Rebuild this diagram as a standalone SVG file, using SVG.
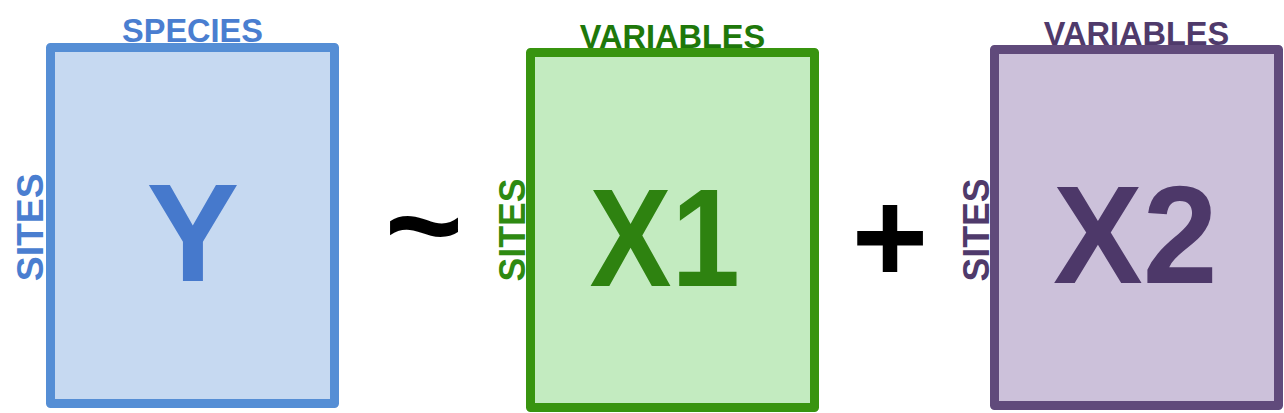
<svg xmlns="http://www.w3.org/2000/svg" width="1284" height="413" viewBox="0 0 1284 413">
<style>
.box{stroke-width:9;stroke-linejoin:round}
.t{font-family:"Liberation Sans",Arial,sans-serif;font-weight:bold}
.big{font-size:139px}
.lbl{font-size:32.5px;text-anchor:middle}
.side{font-size:37px;text-anchor:middle}
</style>
<rect width="1284" height="413" fill="#ffffff"/>
<g id="node-Y">
<rect class="box" x="50.5" y="47.5" width="284" height="356" fill="#c6d9f1" stroke="#558ed5"/>
<text class="t lbl" x="192.5" y="42" fill="#4a7ed0">SPECIES</text>
<text class="t side" transform="translate(43.3,227.3) rotate(-90)" x="0" y="0" textLength="108" lengthAdjust="spacingAndGlyphs" fill="#4a7ed0">SITES</text>
<text class="t big" x="192.8" y="280.7" text-anchor="middle" fill="#4679cc">Y</text>
</g>
<g id="op-tilde">
<text class="t" x="424" y="271" font-size="134" text-anchor="middle" fill="#000000">~</text>
</g>
<g id="node-X1">
<rect class="box" x="530.5" y="52.5" width="284" height="355" fill="#c3ebc0" stroke="#38940f"/>
<text class="t lbl" x="672.4" y="47.5" fill="#1e780a">VARIABLES</text>
<text class="t side" transform="translate(525,230) rotate(-90)" x="0" y="0" font-size="38.5" textLength="103" lengthAdjust="spacingAndGlyphs" fill="#2e8a12">SITES</text>
<text class="t big" x="589.5" y="286" textLength="150.5" lengthAdjust="spacingAndGlyphs" fill="#2e8210">X1</text>
</g>
<g id="op-plus">
<text class="t" x="890" y="282" font-size="131" text-anchor="middle" fill="#000000">+</text>
</g>
<g id="node-X2">
<rect class="box" x="994.5" y="49.5" width="284" height="356" fill="#ccc1da" stroke="#604a7b"/>
<text class="t lbl" x="1136.5" y="44.5" fill="#4f3a6b">VARIABLES</text>
<text class="t side" transform="translate(989,230) rotate(-90)" x="0" y="0" font-size="38.5" textLength="103" lengthAdjust="spacingAndGlyphs" fill="#4f3a6b">SITES</text>
<text class="t big" x="1053" y="283.3" textLength="164.5" lengthAdjust="spacingAndGlyphs" fill="#4d3869">X2</text>
</g>
<g id="connectors"></g>
</svg>
